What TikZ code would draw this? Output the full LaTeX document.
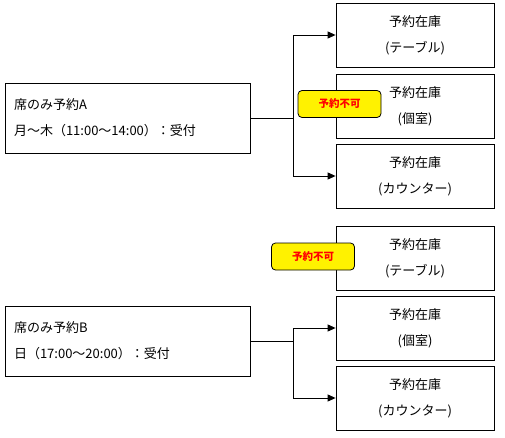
\documentclass[tikz,border=0pt]{standalone}
\usepackage{fontspec}
\newfontfamily\jpfont{Noto Sans CJK JP}
\usetikzlibrary{arrows.meta}

\tikzset{
  srcbox/.style={draw, line width=0.8pt, minimum width=245pt, minimum height=70pt,
    text width=227pt, align=left, font=\jpfont\fontsize{13}{26}\selectfont},
  stockbox/.style={draw, line width=0.8pt, minimum width=158pt, minimum height=64pt,
    align=center, font=\jpfont\fontsize{13}{26}\selectfont},
  ngtag/.style={draw, line width=0.8pt, fill=yellow, rounded corners=4pt,
    minimum width=83pt, minimum height=27pt, text=red,
    font=\jpfont\bfseries\fontsize{10.5}{12}\selectfont},
}

\begin{document}
\begin{tikzpicture}[x=1pt, y=-1pt, >={Triangle[length=8pt,width=7pt]}, line width=0.9pt]
  \useasboundingbox (0,0) rectangle (505,438);

  % reservation A
  \node[srcbox] (A) at (127.5,118) {席のみ予約A\\月～木（11:00～14:00）：受付};
  \node[stockbox] (A1) at (415,35)  {予約在庫\\(テーブル)};
  \node[stockbox] (A2) at (415,106) {予約在庫\\(個室)};
  \node[stockbox] (A3) at (415,176) {予約在庫\\(カウンター)};
  \coordinate (jA) at (293,118);
  \draw (A.east) -- (jA);
  \draw[->] (jA) |- (A1.west);
  \draw[->] (jA) |- (A3.west);
  \node[ngtag] (ngA) at (339.5,104) {予約不可};

  % reservation B
  \node[srcbox] (B) at (127.5,341) {席のみ予約B\\日（17:00～20:00）：受付};
  \node[stockbox] (B1) at (415,258) {予約在庫\\(テーブル)};
  \node[stockbox] (B2) at (415,328) {予約在庫\\(個室)};
  \node[stockbox] (B3) at (415,398) {予約在庫\\(カウンター)};
  \coordinate (jB) at (293,341);
  \draw (B.east) -- (jB);
  \draw[->] (jB) |- (B2.west);
  \draw[->] (jB) |- (B3.west);
  \node[ngtag] (ngB) at (313,256.5) {予約不可};
\end{tikzpicture}
\end{document}
